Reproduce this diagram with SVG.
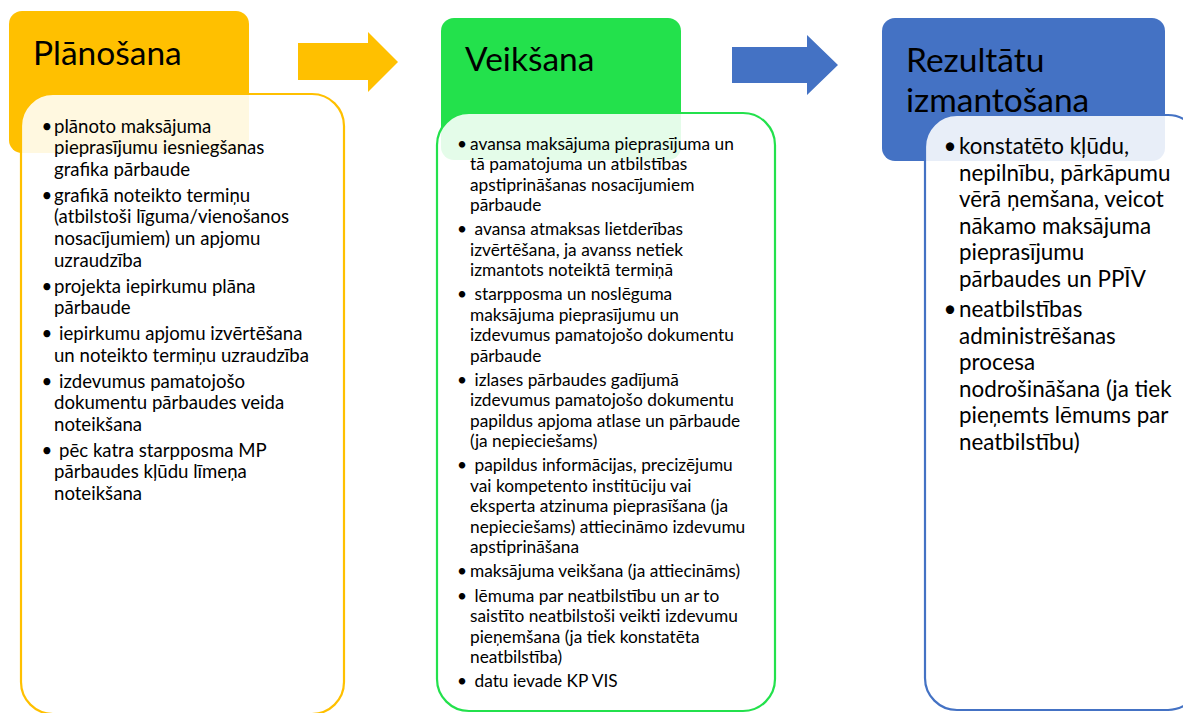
<svg xmlns="http://www.w3.org/2000/svg" width="1183" height="713" viewBox="0 0 1183 713">
  <style>
    .title { font-family: Lato, "Liberation Sans", sans-serif; font-size: 33.5px; fill: #000; }
    .t1 { font-family: Lato, "Liberation Sans", sans-serif; font-size: 18.6px; fill: #000; }
    .t2 { font-family: Lato, "Liberation Sans", sans-serif; font-size: 17.3px; fill: #000; }
    .t3 { font-family: Lato, "Liberation Sans", sans-serif; font-size: 22.4px; fill: #000; }
    .b { text-anchor: middle; }
    .card { fill: #ffffff; fill-opacity: 0.88; stroke-width: 2.2; }
  </style>
  <rect width="1183" height="713" fill="#ffffff"/>

  <!-- connectors between the three stages -->
  <g id="connectors">
    <polygon points="298,43 368,43 368,32 398,62 368,92 368,80 298,80" fill="#FFC000"/>
    <polygon points="732,47 807,47 807,35 838,65 807,95 807,83 732,83" fill="#4472C4"/>
  </g>

  <!-- stage 1 -->
  <g id="planosana">
    <rect x="9" y="11" width="240" height="142" rx="13" fill="#FFC000"/>
    <text class="title" x="33" y="65">Plānošana</text>
    <rect class="card" x="21" y="94" width="323" height="620" rx="32" stroke="#FFC000"/>
    <g class="t1">
      <text class="b" x="47" y="132.5">•</text>
      <text x="54" y="132.5">plānoto maksājuma</text>
      <text x="54" y="154.2">pieprasījumu iesniegšanas</text>
      <text x="54" y="175.9">grafika pārbaude</text>
      <text class="b" x="47" y="201.7">•</text>
      <text x="54" y="201.7">grafikā noteikto termiņu</text>
      <text x="54" y="223.4">(atbilstoši līguma/vienošanos</text>
      <text x="54" y="245.1">nosacījumiem) un apjomu</text>
      <text x="54" y="266.8">uzraudzība</text>
      <text class="b" x="47" y="292.5">•</text>
      <text x="54" y="292.5">projekta iepirkumu plāna</text>
      <text x="54" y="314.2">pārbaude</text>
      <text class="b" x="47" y="340">•</text>
      <text x="59" y="340">iepirkumu apjomu izvērtēšana</text>
      <text x="54" y="361.7">un noteikto termiņu uzraudzība</text>
      <text class="b" x="47" y="387.5">•</text>
      <text x="59" y="387.5">izdevumus pamatojošo</text>
      <text x="54" y="409.2">dokumentu pārbaudes veida</text>
      <text x="54" y="430.9">noteikšana</text>
      <text class="b" x="47" y="456.7">•</text>
      <text x="59" y="456.7">pēc katra starpposma MP</text>
      <text x="54" y="478.4">pārbaudes kļūdu līmeņa</text>
      <text x="54" y="500.1">noteikšana</text>
    </g>
  </g>

  <!-- stage 2 -->
  <g id="veiksana">
    <rect x="441" y="18" width="240" height="142" rx="13" fill="#23E14C"/>
    <text class="title" x="465" y="71">Veikšana</text>
    <rect class="card" x="437" y="113" width="338" height="598" rx="32" stroke="#23E14C"/>
    <g class="t2">
      <text class="b" x="462" y="149.5">•</text>
      <text x="470" y="149.5">avansa maksājuma pieprasījuma un</text>
      <text x="470" y="170">tā pamatojuma un atbilstības</text>
      <text x="470" y="190.5">apstiprināšanas nosacījumiem</text>
      <text x="470" y="211">pārbaude</text>
      <text class="b" x="462" y="235">•</text>
      <text x="474.5" y="235">avansa atmaksas lietderības</text>
      <text x="470" y="255.5">izvērtēšana, ja avanss netiek</text>
      <text x="470" y="276">izmantots noteiktā termiņā</text>
      <text class="b" x="462" y="300">•</text>
      <text x="474.5" y="300">starpposma un noslēguma</text>
      <text x="470" y="320.5">maksājuma pieprasījumu un</text>
      <text x="470" y="341">izdevumus pamatojošo dokumentu</text>
      <text x="470" y="361.5">pārbaude</text>
      <text class="b" x="462" y="385.5">•</text>
      <text x="474.5" y="385.5">izlases pārbaudes gadījumā</text>
      <text x="470" y="406">izdevumus pamatojošo dokumentu</text>
      <text x="470" y="426.5">papildus apjoma atlase un pārbaude</text>
      <text x="470" y="447">(ja nepieciešams)</text>
      <text class="b" x="462" y="471">•</text>
      <text x="474.5" y="471">papildus informācijas, precizējumu</text>
      <text x="470" y="491.5">vai kompetento institūciju vai</text>
      <text x="470" y="512">eksperta atzinuma pieprasīšana (ja</text>
      <text x="470" y="532.5">nepieciešams) attiecināmo izdevumu</text>
      <text x="470" y="553">apstiprināšana</text>
      <text class="b" x="462" y="577">•</text>
      <text x="470" y="577">maksājuma veikšana (ja attiecināms)</text>
      <text class="b" x="462" y="601.5">•</text>
      <text x="474.5" y="601.5">lēmuma par neatbilstību un ar to</text>
      <text x="470" y="622">saistīto neatbilstoši veikti izdevumu</text>
      <text x="470" y="642.5">pieņemšana (ja tiek konstatēta</text>
      <text x="470" y="663">neatbilstība)</text>
      <text class="b" x="462" y="687">•</text>
      <text x="474.5" y="687">datu ievade KP VIS</text>
    </g>
  </g>

  <!-- stage 3 -->
  <g id="rezultatu-izmantosana">
    <rect x="882" y="18" width="283" height="143" rx="13" fill="#4472C4"/>
    <text class="title" x="906" y="72">Rezultātu</text>
    <text class="title" x="906" y="112">izmantošana</text>
    <rect class="card" x="925" y="115" width="275" height="595" rx="32" stroke="#4472C4"/>
    <g class="t3">
      <text class="b" x="950" y="154">•</text>
      <text x="959" y="154">konstatēto kļūdu,</text>
      <text x="959" y="180.6">nepilnību, pārkāpumu</text>
      <text x="959" y="207.2">vērā ņemšana, veicot</text>
      <text x="959" y="233.8">nākamo maksājuma</text>
      <text x="959" y="260.4">pieprasījumu</text>
      <text x="959" y="287">pārbaudes un PPĪV</text>
      <text class="b" x="950" y="317">•</text>
      <text x="959" y="317">neatbilstības</text>
      <text x="959" y="343.6">administrēšanas</text>
      <text x="959" y="370.2">procesa</text>
      <text x="959" y="396.8">nodrošināšana (ja tiek</text>
      <text x="959" y="423.4">pieņemts lēmums par</text>
      <text x="959" y="450">neatbilstību)</text>
    </g>
  </g>
</svg>
